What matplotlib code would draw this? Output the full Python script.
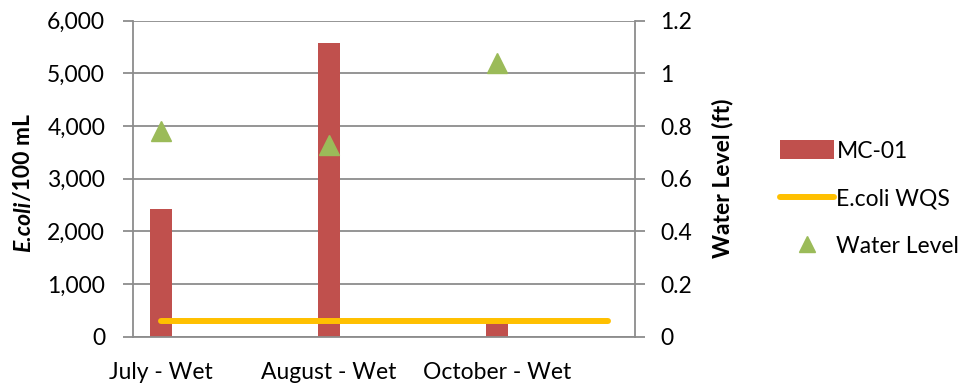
import matplotlib
matplotlib.use("Agg")
import matplotlib.pyplot as plt
from matplotlib.patches import Patch
from matplotlib.lines import Line2D

plt.rcParams['font.family'] = ['Lato', 'DejaVu Sans']

# Sampling events
categories = ["July - Wet", "August - Wet", "October - Wet"]
# E. coli counts (per 100 mL) at MC-01
ecoli = [2420, 5570, 280]
# Water quality standard line (per 100 mL) and its extent along the category axis
wqs_value = 300
wqs_span = [0, 2.66]
# Water level (ft)
water_level = [0.78, 0.73, 1.04]

left_ticks = [0, 1000, 2000, 3000, 4000, 5000, 6000]
right_ticks = [0, 0.2, 0.4, 0.6, 0.8, 1.0, 1.2]

bar_color = "#C0504D"
wqs_color = "#FFC000"
wl_color = "#9BBB59"
grid_color = "#8C8C8C"
fs = 16.5

fig = plt.figure(figsize=(9.7, 3.85), dpi=100)
ax = fig.add_axes([0.137, 0.1255, 0.5176, 0.8205])
x = list(range(len(categories)))

ax.bar(x, ecoli, width=0.131, color=bar_color, zorder=2)
ax.plot(wqs_span, [wqs_value, wqs_value], color=wqs_color, lw=4.3,
        solid_capstyle="round", zorder=3)

ax.set_xlim(-0.167, 2.82)
ax.set_ylim(0, 6000)
ax.set_yticks(left_ticks)
ax.set_yticklabels([f"{v:,}" for v in left_ticks], fontsize=fs)
ax.set_xticks(x)
ax.set_xticklabels(categories, fontsize=fs)
ax.tick_params(axis="x", length=0, pad=18)
ax.tick_params(axis="y", length=7, color=grid_color, width=1.3, pad=13)
ax.yaxis.grid(True, color=grid_color, lw=1.3, zorder=0)
ax.set_axisbelow(True)
for s in ["top", "right"]:
    ax.spines[s].set_visible(False)
for s in ["left", "bottom"]:
    ax.spines[s].set_color(grid_color)
    ax.spines[s].set_linewidth(1.3)

ax2 = ax.twinx()
ax2.plot(x, water_level, linestyle="none", marker="^", ms=14,
         color=wl_color, zorder=4)
ax2.set_ylim(0, 1.2)
ax2.set_yticks(right_ticks)
ax2.set_yticklabels(["0", "0.2", "0.4", "0.6", "0.8", "1", "1.2"], fontsize=fs)
ax2.tick_params(axis="y", length=7, color=grid_color, width=1.3, pad=11)
for s in ["top", "left", "bottom"]:
    ax2.spines[s].set_visible(False)
ax2.spines["right"].set_color(grid_color)
ax2.spines["right"].set_linewidth(1.3)
ax2.set_ylabel("Water Level (ft)", fontsize=fs, fontweight="bold", labelpad=14)

# Left axis title: italic "E.coli" followed by "/100 mL", both bold
fig.canvas.draw()
renderer = fig.canvas.get_renderer()
t1 = fig.text(0.024, 1 - 252 / 385, "E.coli", rotation=90,
              fontsize=fs, fontweight="bold", fontstyle="italic",
              ha="center", va="bottom")
bb = t1.get_window_extent(renderer)
t2 = fig.text(0.024, bb.y1 / fig.bbox.height, "/100 mL", rotation=90,
              fontsize=fs, fontweight="bold", ha="center", va="bottom")

handles = [
    Patch(facecolor=bar_color, edgecolor="none"),
    Line2D([0], [0], color=wqs_color, lw=4.3, solid_capstyle="round"),
    Line2D([0], [0], color=wl_color, linestyle="none", marker="^", ms=11),
]
labels = ["MC-01", "E.coli WQS", "Water Level"]
fig.legend(handles, labels, loc="center left", bbox_to_anchor=(0.795, 0.484),
           frameon=False, fontsize=fs, handlelength=2.35, handleheight=0.9,
           handletextpad=0.1, labelspacing=1.15, borderaxespad=0)

fig.savefig("out.png", dpi=100)
